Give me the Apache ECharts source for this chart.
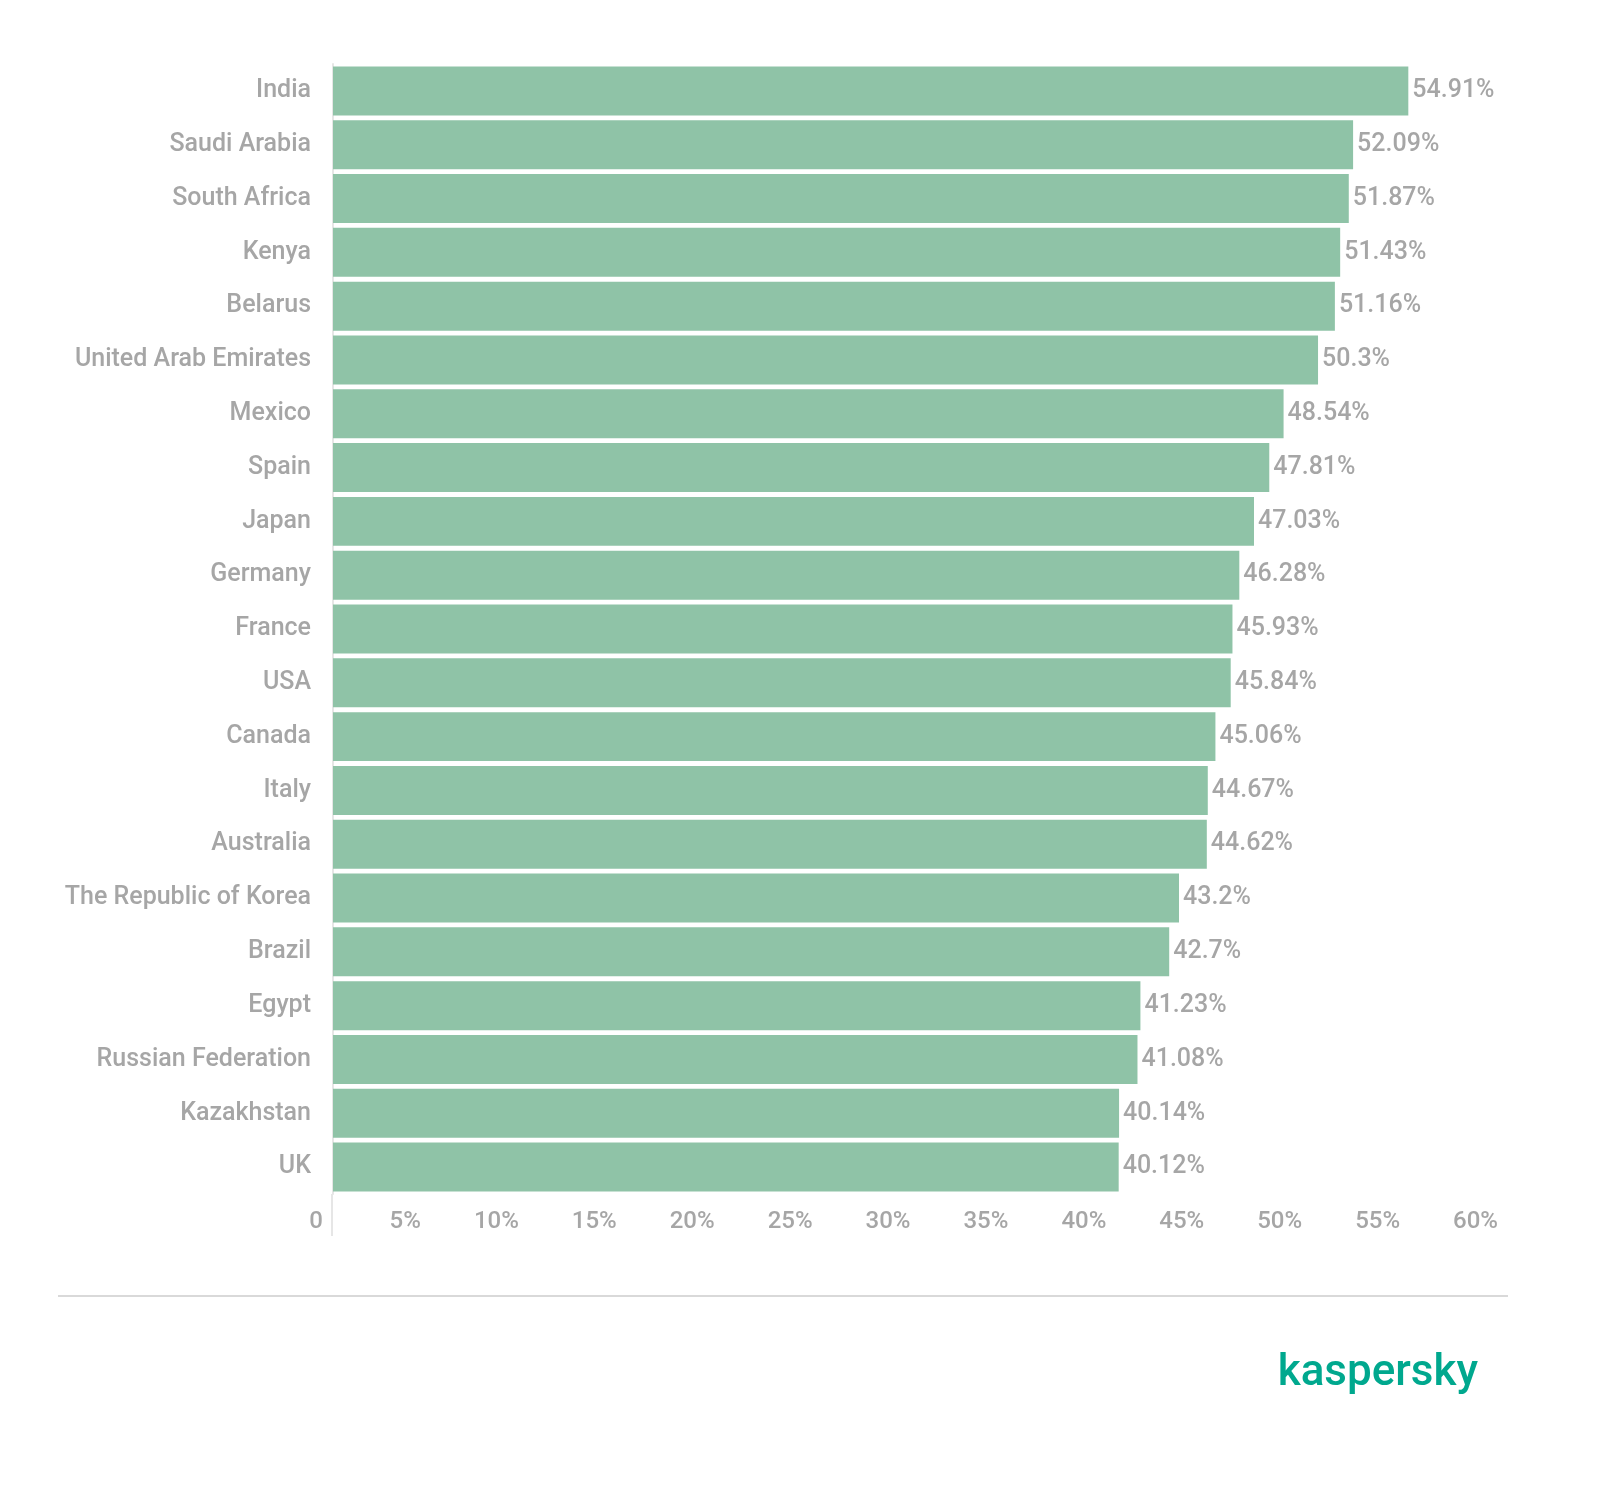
<!DOCTYPE html>
<html>
<head>
<meta charset="utf-8">
<script src="https://cdn.jsdelivr.net/npm/echarts@6/dist/echarts.min.js"></script>
<style>
  html, body { margin: 0; padding: 0; background: #fff; }
  #main { width: 1600px; height: 1486px; }
</style>
</head>
<body>
<div id="main"></div>
<script>
const countries = ['India', 'Saudi Arabia', 'South Africa', 'Kenya', 'Belarus', 'United Arab Emirates',
  'Mexico', 'Spain', 'Japan', 'Germany', 'France', 'USA', 'Canada', 'Italy', 'Australia',
  'The Republic of Korea', 'Brazil', 'Egypt', 'Russian Federation', 'Kazakhstan', 'UK'];
const shares = [54.91, 52.09, 51.87, 51.43, 51.16, 50.3, 48.54, 47.81, 47.03, 46.28, 45.93,
  45.84, 45.06, 44.67, 44.62, 43.2, 42.7, 41.23, 41.08, 40.14, 40.12];

const grey = '#a6a6a6';
const chart = echarts.init(document.getElementById('main'));
chart.setOption({
  animation: false,
  textStyle: { fontFamily: 'Roboto' },
  grid: { left: 333, right: 92, top: 64, bottom: 292, containLabel: false },
  xAxis: {
    type: 'value', min: 0, max: 60, interval: 5,
    splitLine: { show: false },
    axisLine: { show: false },
    axisTick: { show: false },
    axisLabel: {
      color: grey, fontSize: 24, fontWeight: 500, align: 'right', margin: 16,
      padding: [0, 10, 0, 0],
      formatter: v => v === 0 ? '0' : v + '%'
    }
  },
  yAxis: {
    type: 'category', data: countries, inverse: true,
    axisLine: { show: true, onZero: false, lineStyle: { color: '#e6e6e6', width: 2 } },
    axisTick: { show: false },
    axisLabel: { color: grey, fontSize: 25, fontWeight: 500, margin: 22 }
  },
  series: [{
    type: 'bar', data: shares, barCategoryGap: '9%',
    itemStyle: { color: '#8fc3a7' },
    label: {
      show: true, position: 'right', distance: 4, color: grey, fontSize: 25, fontWeight: 500,
      formatter: p => p.value + '%'
    }
  }],
  graphic: [
    { type: 'line', shape: { x1: 332, y1: 1194, x2: 332, y2: 1236 }, style: { stroke: '#e6e6e6', lineWidth: 2 } },
    { type: 'line', shape: { x1: 58, y1: 1296, x2: 1508, y2: 1296 }, style: { stroke: '#d9d9d9', lineWidth: 2 } },
    { type: 'text', right: 122, top: 1352,
      style: { text: 'kaspersky', fill: '#00a88e', font: '500 44px Roboto' } }
  ]
});
</script>
</body>
</html>
